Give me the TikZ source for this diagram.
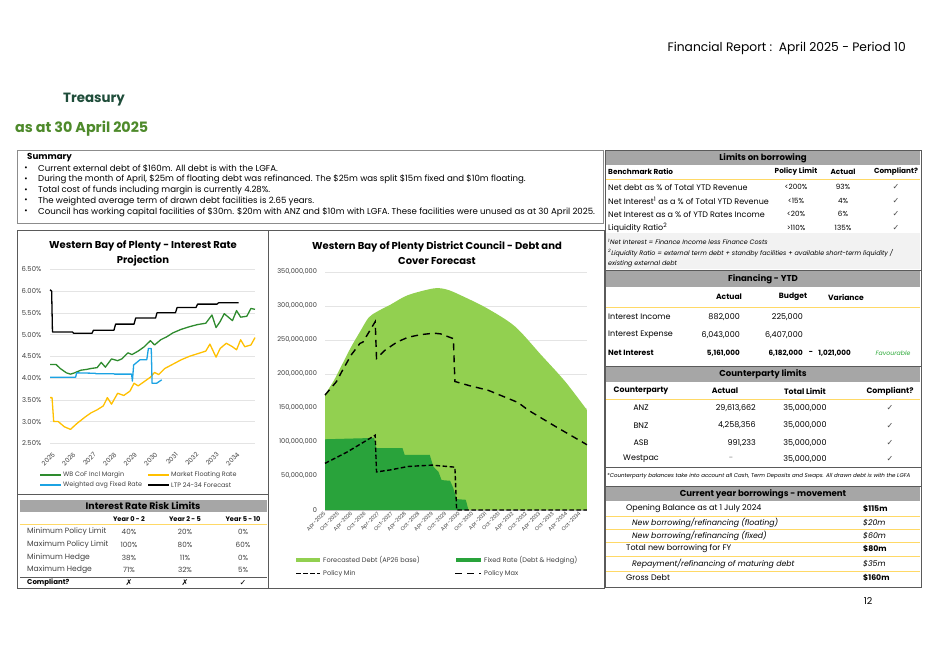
\documentclass[tikz,border=0pt]{standalone}
\usepackage{fontspec}
\setmainfont{Poppins}
\newfontfamily\symfont{DejaVu Sans}
\usetikzlibrary{positioning}

\definecolor{hdrgray}{HTML}{A6A6A6}
\definecolor{rulegray}{HTML}{5A5A5A}
\definecolor{gridgray}{HTML}{E4E4E4}
\definecolor{tabyellow}{HTML}{FFD966}
\definecolor{notegray}{HTML}{F2F2F2}
\definecolor{treasgreen}{HTML}{1F4D3A}
\definecolor{dategreen}{HTML}{4E8A2B}
\definecolor{cofgreen}{HTML}{2E8B2E}
\definecolor{floatyellow}{HTML}{FFC000}
\definecolor{fixedblue}{HTML}{1CA3E3}
\definecolor{fcgreen}{HTML}{92D050}
\definecolor{fxgreen}{HTML}{29A33B}
\definecolor{favgreen}{HTML}{2EAA3A}

\newcommand\fs[1]{\fontsize{#1}{#1}\selectfont}
\newcommand\yesmark{{\symfont\char"2713}}
\newcommand\nomark{{\symfont\char"2717}}

\tikzset{
  lbl/.style={inner sep=0pt, font=\fs{8}},
  lblb/.style={inner sep=0pt, font=\fs{7.3}\bfseries},
  lbli/.style={inner sep=0pt, font=\fs{7.8}\itshape},
  hdrtext/.style={inner sep=0pt, font=\fs{8.6}\bfseries},
  note/.style={inner sep=0pt, anchor=west, font=\fs{6.4}\itshape},
  yrule/.style={draw=tabyellow, line width=0.9pt},
  box/.style={draw=rulegray, line width=0.8pt},
  grid line/.style={draw=gridgray, line width=0.6pt},
  axis lbl/.style={inner sep=0pt, font=\fs{6.6}, text=black!75},
  chart title/.style={inner sep=0pt, align=center, font={\fontsize{10}{15}\selectfont\bfseries}},
  series/.style={line width=1.3pt, line join=round},
  min dash/.style={line width=1.4pt, dash pattern=on 4.5pt off 2.5pt},
  max dash/.style={line width=1.4pt, dash pattern=on 7pt off 5pt},
}

\begin{document}
\begin{tikzpicture}[x=1pt, y=-1pt]
\useasboundingbox[fill=white] (0,0) rectangle (939,664);

% page heading
\node[inner sep=0pt, anchor=east, font=\fs{12.3}] (report) at (906,48) {Financial Report :\ \ April 2025 - Period 10};
\node[inner sep=0pt, anchor=west, font=\fs{13.4}\bfseries, text=treasgreen] (treasury) at (63,100) {Treasury};
\node[inner sep=0pt, anchor=west, font=\fs{14.3}\bfseries, text=dategreen] (asat) at (15,129) {as at 30 April 2025};

% summary
\draw[box, draw=black!45] (17,150) rectangle (603,223);
\node[inner sep=0pt, anchor=west, font=\fs{8.7}\bfseries] (summary) at (27,157.5) {Summary};
\foreach \txt [count=\i] in {
  {Current external debt of \$160m. All debt is with the LGFA.},
  {During the month of April, \$25m of floating debt was refinanced. The \$25m was split \$15m fixed and \$10m floating.},
  {Total cost of funds including margin is currently 4.28\%.},
  {The weighted average term of drawn debt facilities is 2.65 years.},
  {Council has working capital facilities of \$30m. \$20m with ANZ and \$10m with LGFA. These facilities were unused as at 30 April 2025.}}{
  \node[inner sep=0pt, font=\fs{8}] at (26,{157.8+10.8*\i}) {\textbullet};
  \node[inner sep=0pt, anchor=west, font=\fs{8.6}] at (38,{157.8+10.8*\i}) {\txt};
}

% frames
\draw[box] (17,230) rectangle (268,588);
\draw[box] (17,494) -- (268,494);
\draw[box] (268,230) rectangle (604,588);
\draw[box] (605,150) rectangle (921,587);
\foreach \y in {270,366,467,486} \draw[box] (605,\y) -- (921,\y);

% interest rate projection
\node[chart title] (irtitle) at (143,253) {Western Bay of Plenty - Interest Rate\\Projection};
\begin{scope}[shift={(50,552.05)}, x=20.5pt, y=43.5pt]
  \foreach \v in {2.5,3,...,6.5} \draw[grid line] (0,\v) -- (10,\v);
  \foreach \v/\l in {6.5/6.50,6/6.00,5.5/5.50,5/5.00,4.5/4.50,4/4.00,3.5/3.50,3/3.00,2.5/2.50}
    \node[axis lbl, font=\fs{6.8}, anchor=east] at (-0.42,\v) {\l\%};
  \foreach \i in {0,...,9}{
    \pgfmathtruncatemacro\yr{2025+\i}
    \node[axis lbl, font=\fs{6.4}, anchor=north east, rotate=45] at (\i+0.1,2.31) {\yr};
  }
  \draw[series, black] plot coordinates {(0,6.03) (0.08,6.0) (0.12,5.06) (1.1,5.06) (1.15,5.03)
    (2.05,5.03) (2.12,5.10) (3.12,5.10) (3.2,5.24) (4.1,5.24) (4.18,5.38) (5.15,5.38) (5.22,5.50)
    (6.12,5.50) (6.2,5.62) (7.12,5.62) (7.2,5.70) (8.15,5.70) (8.22,5.73) (9.2,5.73)};
  \draw[series, cofgreen] plot coordinates {(0,4.31) (0.3,4.31) (0.5,4.22) (0.8,4.12) (1.0,4.09)
    (1.2,4.12) (1.5,4.18) (1.8,4.2) (2.0,4.22) (2.3,4.24) (2.5,4.36) (2.7,4.25) (3.0,4.44) (3.3,4.40)
    (3.5,4.44) (3.8,4.58) (4.0,4.54) (4.3,4.62) (4.6,4.72) (4.9,4.86) (5.1,4.76) (5.4,4.88)
    (5.7,4.95) (6.0,5.04) (6.4,5.12) (6.8,5.18) (7.2,5.23) (7.6,5.26) (7.9,5.45) (8.1,5.16)
    (8.3,5.30) (8.5,5.48) (8.7,5.40) (8.9,5.32) (9.1,5.55) (9.3,5.40) (9.6,5.42) (9.8,5.60) (10,5.58)};
  \draw[series, floatyellow] plot coordinates {(0,3.55) (0.1,3.55) (0.18,3.0) (0.4,3.0) (0.7,2.88)
    (1.0,2.82) (1.3,2.95) (1.7,3.1) (2.0,3.2) (2.3,3.27) (2.6,3.36) (2.8,3.55) (3.0,3.40) (3.3,3.65)
    (3.6,3.60) (3.9,3.70) (4.1,3.88) (4.3,3.82) (4.6,3.92) (4.9,4.02) (5.1,4.13) (5.3,4.08)
    (5.6,4.22) (6.0,4.32) (6.4,4.42) (6.8,4.50) (7.2,4.56) (7.6,4.62) (7.8,4.78) (8.1,4.48)
    (8.3,4.68) (8.6,4.80) (8.9,4.72) (9.1,4.65) (9.3,4.88) (9.5,4.72) (9.8,4.76) (10,4.93)};
  \draw[series, fixedblue] plot coordinates {(0,4.02) (1.25,4.02) (1.3,4.12) (2.2,4.11) (2.25,4.10)
    (3.1,4.10) (3.15,4.09) (3.98,4.09) (4.02,3.93) (4.08,4.30) (4.39,4.42) (4.72,4.42) (4.8,4.68)
    (4.94,4.68) (4.98,3.88) (5.2,3.88) (5.45,3.96)};
\end{scope}
\foreach \c/\x/\y/\t in {cofgreen/40/475/WB CoF Incl Margin, floatyellow/148/475/Market Floating Rate,
  fixedblue/40/485/Weighted avg Fixed Rate, black/148/485/LTP 24-34 Forecast}{
  \draw[\c, line width=1.3pt] (\x,\y) -- ++(21,0);
  \node[axis lbl, font=\fs{6.4}, anchor=west] at (\x+23,\y) {\t};
}

% interest rate risk limits
\fill[hdrgray] (20,500) rectangle (267,512);
\node[hdrtext, font=\fs{9.4}\bfseries] (risk) at (143,506) {Interest Rate Risk Limits};
\foreach \x/\t in {129/Year 0 - 2, 185/Year 2 - 5, 243/Year 5 - 10}
  \node[lblb, font=\fs{6.6}\bfseries] at (\x,519) {\t};
\draw[yrule] (20,524.5) -- (267,524.5);
\foreach \y/\t/\a/\b/\c in {532/Minimum Policy Limit/40/20/0, 545/Maximum Policy Limit/100/80/60,
  557.5/Minimum Hedge/38/11/0, 570/Maximum Hedge/71/32/5}{
  \node[lbl, font=\fs{7.6}, text=black!75, anchor=west] at (27,\y) {\t};
  \node[lbl, font=\fs{7.2}, text=black!75] at (129,\y) {\a\%};
  \node[lbl, font=\fs{7.2}, text=black!75] at (185,\y) {\b\%};
  \node[lbl, font=\fs{7.2}, text=black!75] at (243,\y) {\c\%};
}
\draw[box] (20,577) -- (267,577);
\node[lblb, font=\fs{7}\bfseries, anchor=west] (compl) at (27,582.5) {Compliant?};
\node[lbl] at (129,582.5) {\nomark};
\node[lbl] at (185,582.5) {\nomark};
\node[lbl] at (243,582.5) {\yesmark};

% debt and cover forecast
\node[chart title] (dctitle) at (437,253) {Western Bay of Plenty District Council - Debt and\\Cover Forecast};
\begin{scope}[shift={(325,510)}, x=2.183pt, y=0.68pt]
  \foreach \v in {50,100,...,350} {
    \draw[grid line] (0,\v) -- (120,\v);
    \node[axis lbl, anchor=east] at (-3.6,\v) {\v,000,000};
  }
  \node[axis lbl, anchor=east] at (-3.6,0) {0};
  \fill[fcgreen] (0,0) -- plot[smooth] coordinates {(0,170) (4,190) (8,215) (12,240) (16,262)
    (20,283) (24,292) (30,302) (38,316) (50,326) (56,324) (62,316) (74,297) (87,270) (99,228)
    (110,189) (120,147)} -- (120,0) -- cycle;
  \fill[fxgreen] (0,0) -- (0,104) -- (22.5,106) -- (23.5,91) -- (35.5,91) -- (36.5,81) -- (48,81)
    -- (49.6,64) -- (52,56) -- (53.4,44) -- (57.3,43) -- (58.8,32) -- (60.3,16) -- (64.5,15)
    -- (65.7,0) -- cycle;
  \draw[grid line, draw=black!25] (0,0) -- (120,0);
  \foreach \i in {0,...,19}{
    \pgfmathtruncatemacro\yr{2025+div(\i,2)}
    \node[axis lbl, font=\fs{5.2}, anchor=north east, rotate=45] at (\i*6.15-0.8,-1.5)
      {\ifodd\i Oct\else Apr\fi-\yr};
  }
  \draw[max dash] plot coordinates {(0,169) (5.3,189) (7.6,203) (12,228) (16,245) (17.4,247)
    (23,277) (23.6,223) (27.5,235) (33,247) (38,254) (44,258) (50,260) (53,259) (58.8,252)
    (59.5,189) (66,183) (74.8,176) (88.5,158) (93,147) (106,122) (120,96)};
  \draw[min dash] plot coordinates {(0,68.6) (10,85) (23,110) (23.6,56) (30,59) (38,64) (49,66)
    (59.5,63) (60.3,0) (120,0)};
\end{scope}
\fill[fcgreen] (296,558) rectangle (320,562);
\node[axis lbl, anchor=west] (fclegend) at (323,560) {Forecasted Debt (AP26 base)};
\fill[fxgreen] (456,558) rectangle (481,562);
\node[axis lbl, anchor=west] (fxlegend) at (484,560) {Fixed Rate (Debt \& Hedging)};
\draw[min dash] (296,573.5) -- (320,573.5);
\node[axis lbl, anchor=west] (minlegend) at (323,573.5) {Policy Min};
\draw[max dash] (455,573.5) -- (481,573.5);
\node[axis lbl, anchor=west] (maxlegend) at (484,573.5) {Policy Max};

% limits on borrowing
\fill[hdrgray] (606,151) rectangle (920,164.5);
\node[hdrtext] (limits) at (763,157.8) {Limits on borrowing};
\node[lblb, anchor=west] (bench) at (608,172) {Benchmark Ratio};
\node[lblb] at (796,172) {Policy Limit};
\node[lblb] at (843,172) {Actual};
\node[lblb] at (896,172) {Compliant?};
\draw[yrule] (606,179.5) -- (920,179.5);
\foreach \y/\t/\a/\b in {187/{Net debt as \% of Total YTD Revenue}/{<200\%}/{93\%},
  200.5/{Net Interest\textsuperscript{1} as a \% of Total YTD Revenue}/{<15\%}/{4\%},
  214/{Net Interest as a \% of YTD Rates Income}/{<20\%}/{6\%},
  227.5/{Liquidity Ratio\textsuperscript{2}}/{>110\%}/{135\%}}{
  \node[lbl, anchor=west] at (608,\y) {\t};
  \node[lbl, font=\fs{7.2}] at (796,\y) {\a};
  \node[lbl, font=\fs{7.2}] at (843,\y) {\b};
  \node[lbl, text=black!70] at (896,\y) {\yesmark};
}
\fill[notegray] (606,233) rectangle (920,269);
\node[note] at (608,242) {\textsuperscript{1}Net Interest = Finance Income less Finance Costs};
\node[note] at (608,253) {\textsuperscript{2}Liquidity Ratio = external term debt + standby facilities + available short-term liquidity /};
\node[note] at (608,264) {existing external debt};

% financing ytd
\fill[hdrgray] (606,271) rectangle (920,287);
\node[hdrtext] (financing) at (763,279.5) {Financing - YTD};
\foreach \x/\t in {729/Actual, 793/Budget, 846/Variance}
  \node[lblb, font=\fs{7.6}\bfseries] at (\x,297) {\t};
\draw[yrule] (606,307.5) -- (920,307.5);
\node[lbl, anchor=west] at (608,317) {Interest Income};
\node[lbl, anchor=east] at (740,317) {882,000};
\node[lbl, anchor=east] at (803,317) {225,000};
\node[lbl, anchor=west] at (608,335) {Interest Expense};
\node[lbl, anchor=east] at (740,335) {6,043,000};
\node[lbl, anchor=east] at (803,335) {6,407,000};
\node[lblb, font=\fs{7.6}\bfseries, anchor=west] (netint) at (608,353) {Net Interest};
\node[lblb, font=\fs{7.2}\bfseries, anchor=east] at (740,353) {5,161,000};
\node[lblb, font=\fs{7.2}\bfseries, anchor=east] at (803,353) {6,182,000};
\node[lblb] at (811,353) {-};
\node[lblb, font=\fs{7.2}\bfseries, anchor=east] at (851,353) {1,021,000};
\node[inner sep=0pt, font=\fs{6.2}\itshape, text=favgreen] at (893,353.5) {Favourable};

% counterparty limits
\fill[hdrgray] (606,367) rectangle (920,382);
\node[hdrtext] (counter) at (763,374.5) {Counterparty limits};
\foreach \x/\t in {641/Counterparty, 725/Actual, 805/Total Limit, 890/Compliant?}
  \node[lblb, font=\fs{7.8}\bfseries] at (\x,391) {\t};
\draw[yrule] (606,399) -- (920,399);
\foreach \y/\n/\a in {408/ANZ/{29,613,662}, 425.5/BNZ/{4,258,356}, 443/ASB/{991,233}}{
  \node[lbl] at (641,\y) {\n};
  \node[lbl, anchor=east] at (756,\y) {\a};
  \node[lbl] at (805,\y) {35,000,000};
  \node[lbl, text=black!70] at (890,\y) {\yesmark};
}
\node[lbl] at (641,459) {Westpac};
\node[lbl, text=black!50] at (731,459) {-};
\node[lbl] at (805,459) {35,000,000};
\node[lbl, text=black!70] at (890,459) {\yesmark};
\node[note, font=\fs{5.5}\itshape] at (607,476.5) {*Counterparty balances take into account all Cash, Term Deposits and Swaps. All drawn debt is with the LGFA};

% current year borrowings
\fill[hdrgray] (606,487) rectangle (920,501);
\node[hdrtext] (movement) at (763,494) {Current year borrowings - movement};
\foreach \y in {516,529,542,556.5,571} \draw[yrule, line width=0.7pt] (606,\y) -- (920,\y);
\foreach \y/\t/\v in {509/{Opening Balance as at 1 July 2024}/{\$115m}, 548.5/{Total new borrowing for FY}/{\$80m},
  577.5/{Gross Debt}/{\$160m}}{
  \node[lbl, anchor=west] at (626,\y) {\t};
  \node[lblb, font=\fs{7.8}\bfseries, anchor=west] at (863,\y) {\v};
}
\foreach \y/\t/\v in {522.5/{New borrowing/refinancing (floating)}/{\$20m}, 535.5/{New borrowing/refinancing (fixed)}/{\$60m},
  563.5/{Repayment/refinancing of maturing debt}/{\$35m}}{
  \node[lbli, anchor=west] at (632,\y) {\t};
  \node[lbli, anchor=west] at (863,\y) {\v};
}

\node[inner sep=0pt, font=\fs{9.5}] (page) at (868,601) {12};
\end{tikzpicture}
\end{document}
